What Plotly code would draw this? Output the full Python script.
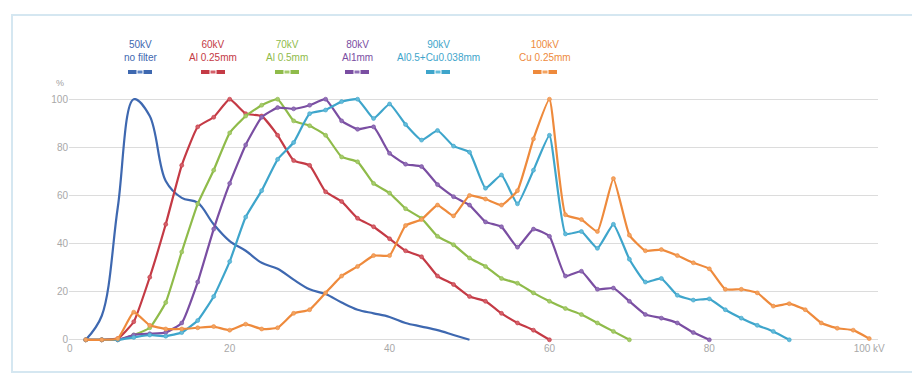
import plotly.graph_objects as go

# ---- data (kV step 2) ----
kv_50 = list(range(2, 51, 2))
v_50 = [0, 10, 55, 100, 93, 66, 59, 57, 48, 41, 37, 32, 29.5, 25, 21, 19, 15.5, 12.5, 11, 9.5, 7, 5.5, 4, 2, 0]

kv_60 = list(range(2, 61, 2))
v_60 = [0, 0, 0.5, 7.5, 26, 48, 72.5, 88.5, 92.5, 100, 94, 93, 85, 74.5, 72.5, 61.5, 57.5, 50.5, 47, 42,
        37, 34.5, 26.5, 23, 18, 16, 11, 7, 4, 0]

kv_70 = list(range(2, 71, 2))
v_70 = [0, 0, 0, 2, 5, 15.5, 36.5, 56.5, 70.5, 86, 93, 97.5, 100, 91, 89, 85, 76, 74, 65, 61,
        54.5, 50.5, 43, 39.5, 34, 30.5, 25.5, 23.5, 19.5, 16, 13, 10.5, 7, 3.5, 0]

kv_80 = list(range(2, 81, 2))
v_80 = [0, 0, 0, 2, 2.5, 3, 7, 24, 46, 65, 81, 92.5, 96.5, 96, 97.5, 100, 91, 87.5, 88.5, 77.5,
        73, 72, 64.5, 59.5, 56, 49, 47, 38.5, 46, 43, 26.5, 28.5, 21, 21.5, 16, 10.5, 9, 7, 3, 0]

kv_90 = list(range(2, 91, 2))
v_90 = [0, 0, 0, 1, 2, 1.5, 3, 8, 18, 32.5, 51, 62, 75, 82, 94, 95.5, 99, 100, 92, 98,
        89.5, 83, 87, 80.5, 78, 63, 68.5, 56.5, 70.5, 85, 44, 45, 38, 48, 33.5, 24, 25.5, 18.5, 16.5, 17,
        12.5, 9, 6, 3.5, 0]

kv_100 = list(range(2, 101, 2))
v_100 = [0, 0, 0.5, 11.5, 6, 4.5, 4.5, 5, 5.5, 4, 6.5, 4.5, 5, 11, 12.5, 19.5, 26.5, 30.5, 35, 35,
         47.5, 50, 56, 51.5, 60, 58.5, 56, 62, 83.5, 100, 52, 50, 45, 67, 43.5, 37, 37.5, 35, 32, 29.5,
         21, 21, 19.5, 14, 15, 12.5, 7, 4.8, 4, 0.5]

series_names = ["50kV", "60kV", "70kV", "80kV", "90kV", "100kV"]
series_filters = ["no filter", "Al 0.25mm", "Al 0.5mm", "Al1mm", "Al0.5+Cu0.038mm", "Cu 0.25mm"]
series_x = [kv_50, kv_60, kv_70, kv_80, kv_90, kv_100]
series_y = [v_50, v_60, v_70, v_80, v_90, v_100]
colors = ["#3e68b0", "#c43a45", "#8fbb4a", "#7a4ea2", "#3ea5cb", "#ee8a3c"]
marker_colors = ["#5a82c4", "#d5606a", "#a5cb6b", "#9070b6", "#64bcda", "#f3a361"]

x_ticks = [0, 20, 40, 60, 80, 100]
x_ticktext = ["0", "20", "40", "60", "80", "100 kV"]
y_ticks = [0, 20, 40, 60, 80, 100]

# legend centres (pixels)
legend_px = [140, 213, 287, 357, 438, 545]

W, H = 912, 375
ML, MR, MT, MB = 69, 34, 98, 34
PW = W - ML - MR
PH = H - MT - MB


def px2paper_x(px):
    return (px - ML) / PW


def py2paper_y(py):
    return (H - MB - py) / PH


fig = go.Figure()
for i in range(6):
    is_blue = i == 0
    fig.add_trace(go.Scatter(
        x=series_x[i], y=series_y[i], name=series_names[i],
        mode="lines" if is_blue else "lines+markers",
        line=dict(color=colors[i], width=2.2, shape="spline", smoothing=1.0 if is_blue else 0.4),
        marker=dict(size=4, color=marker_colors[i], line=dict(width=0.6, color=colors[i])),
        cliponaxis=False, showlegend=False,
    ))

shapes = []
annotations = []
for i in range(6):
    cx = legend_px[i]
    annotations.append(dict(
        x=px2paper_x(cx), y=py2paper_y(51), xref="paper", yref="paper",
        text=f"{series_names[i]}<br>{series_filters[i]}", showarrow=False,
        font=dict(size=10, color=colors[i], family="Liberation Sans, Arial, sans-serif"),
        xanchor="center", yanchor="middle", align="center",
    ))
    shapes.append(dict(type="line", xref="paper", yref="paper",
                       x0=px2paper_x(cx - 12), x1=px2paper_x(cx + 12),
                       y0=py2paper_y(72), y1=py2paper_y(72),
                       line=dict(color=colors[i], width=4)))
    shapes.append(dict(type="rect", xref="paper", yref="paper",
                       x0=px2paper_x(cx - 3), x1=px2paper_x(cx + 3),
                       y0=py2paper_y(74), y1=py2paper_y(70),
                       fillcolor=marker_colors[i], line=dict(color="white", width=1)))

# light frame around the chart
shapes.append(dict(type="rect", xref="paper", yref="paper",
                   x0=px2paper_x(12), x1=px2paper_x(930),
                   y0=py2paper_y(372), y1=py2paper_y(15),
                   line=dict(color="#d5e7f1", width=2), fillcolor="rgba(0,0,0,0)", layer="below"))

annotations.append(dict(x=px2paper_x(60), y=py2paper_y(83), xref="paper", yref="paper",
                        text="%", showarrow=False, xanchor="center", yanchor="middle",
                        font=dict(size=9, color="#a0a0a0", family="Liberation Sans, Arial, sans-serif")))

fig.update_layout(
    width=W, height=H,
    margin=dict(l=ML, r=MR, t=MT, b=MB),
    paper_bgcolor="white", plot_bgcolor="white",
    font=dict(family="Liberation Sans, Arial, sans-serif", size=10, color="#a0a0a0"),
    xaxis=dict(range=[-0.1, 101.1], tickvals=x_ticks, ticktext=x_ticktext, showgrid=False,
               zeroline=False, showline=False, ticks="", tickfont=dict(size=10, color="#a8a8a8"),
               fixedrange=True),
    yaxis=dict(range=[-0.5, 100.5], tickvals=y_ticks, showgrid=True, gridcolor="#dcdcdc",
               gridwidth=1, zeroline=False, showline=False, ticks="",
               tickfont=dict(size=10, color="#a8a8a8"), fixedrange=True),
    shapes=shapes, annotations=annotations, showlegend=False,
)

fig.write_html("out.html")
